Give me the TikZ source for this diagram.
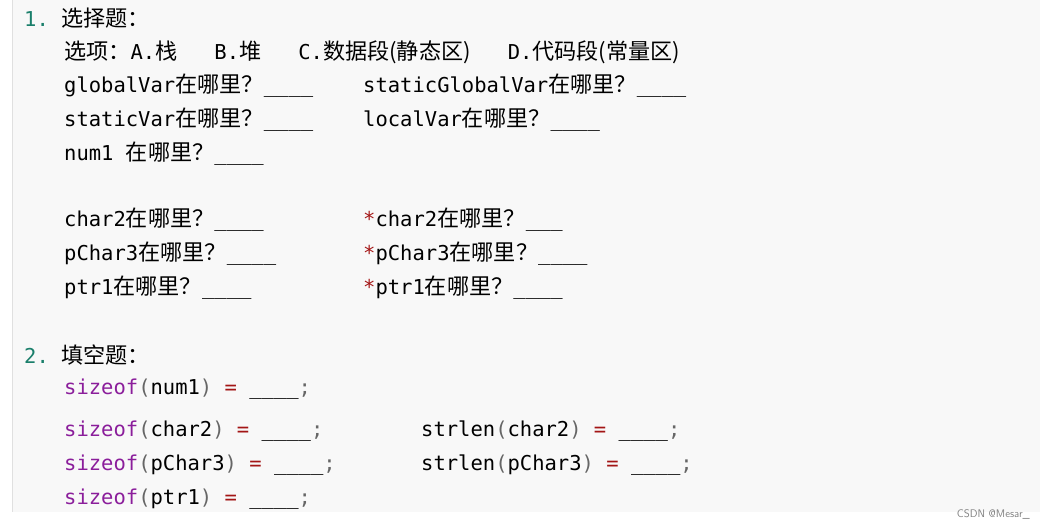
\documentclass[tikz,border=0pt]{standalone}
\usepackage{fontspec}
\setmonofont{DejaVu Sans Mono}
\newfontfamily\cjk[Scale=1.08]{Noto Sans CJK SC}
\definecolor{bg}{HTML}{F8F8F8}
\definecolor{num}{HTML}{1A7F6B}
\definecolor{kw}{HTML}{8B1E9B}
\definecolor{op}{HTML}{A31515}
\definecolor{par}{HTML}{666666}
\newcommand{\zh}[1]{{\cjk #1}}
\newcommand{\kw}[1]{\textcolor{kw}{#1}}
\newcommand{\op}[1]{\textcolor{op}{#1}}
\newcommand{\pa}[1]{\textcolor{par}{#1}}
\newcommand{\bl}{\_\_\_\_}
\begin{document}
\begin{tikzpicture}[x=1pt,y=-1pt,
  t/.style={anchor=west,inner sep=0pt,font=\fontsize{20.5}{24}\ttfamily}]
\useasboundingbox (0,0) rectangle (1044,529);
\fill[bg] (12,0) rectangle (1040,512);
\fill[black!12] (12,0) rectangle (13,512);
\node[t] (n1) at (24,18) {\textcolor{num}{1.} \zh{选择题：}};
\node[t] (o) at (64,52) {\zh{选项：}A.\zh{栈}\ \ \ B.\zh{堆}\ \ \ C.\zh{数据段(静态区)}\ \ \ D.\zh{代码段(常量区)}};
\node[t] (a1) at (64,86) {globalVar\zh{在哪里？}\bl};
\node[t] (a2) at (363,86) {staticGlobalVar\zh{在哪里？}\bl};
\node[t] (b1) at (64,120) {staticVar\zh{在哪里？}\bl};
\node[t] (b2) at (363,120) {localVar\zh{在哪里？}\bl};
\node[t] (c1) at (64,154) {num1 \zh{在哪里？}\bl};
\node[t] (d1) at (64,220) {char2\zh{在哪里？}\bl};
\node[t] (d2) at (363,220) {\op{*}char2\zh{在哪里？}\_\_\_};
\node[t] (e1) at (64,254) {pChar3\zh{在哪里？}\bl};
\node[t] (e2) at (363,254) {\op{*}pChar3\zh{在哪里？}\bl};
\node[t] (f1) at (64,288) {ptr1\zh{在哪里？}\bl};
\node[t] (f2) at (363,288) {\op{*}ptr1\zh{在哪里？}\bl};
\node[t] (n2) at (24,355) {\textcolor{num}{2.} \zh{填空题：}};
\node[t] (g1) at (64,389) {\kw{sizeof}\pa{(}num1\pa{)} \op{=} \bl\pa{;}};
\node[t] (h1) at (64,431) {\kw{sizeof}\pa{(}char2\pa{)} \op{=} \bl\pa{;}};
\node[t] (h2) at (421,431) {strlen\pa{(}char2\pa{)} \op{=} \bl\pa{;}};
\node[t] (i1) at (64,465) {\kw{sizeof}\pa{(}pChar3\pa{)} \op{=} \bl\pa{;}};
\node[t] (i2) at (421,465) {strlen\pa{(}pChar3\pa{)} \op{=} \bl\pa{;}};
\node[t] (j1) at (64,499) {\kw{sizeof}\pa{(}ptr1\pa{)} \op{=} \bl\pa{;}};
\node[anchor=east,inner sep=0pt,font=\fontsize{11}{13}\sffamily,text=black!50] (w) at (1030,514) {CSDN @Mesar\_};
\end{tikzpicture}
\end{document}
